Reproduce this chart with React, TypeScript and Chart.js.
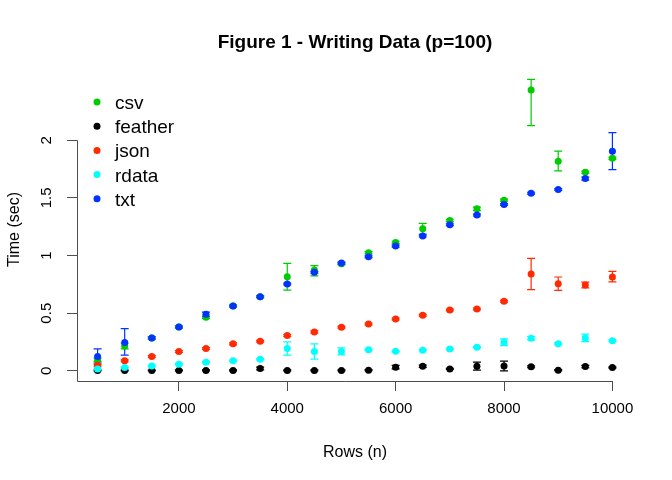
import React, { useEffect, useRef } from 'react';
import { Chart, registerables } from 'chart.js';

Chart.register(...registerables);

// ---------- data ----------
const rows = [500, 1000, 1500, 2000, 2500, 3000, 3500, 4000, 4500, 5000, 5500, 6000, 6500, 7000, 7500, 8000, 8500, 9000, 9500, 10000];

const seriesNames = ['csv', 'feather', 'json', 'rdata', 'txt'];
const seriesColors = ['#00cc00', '#000000', '#ff2a00', '#00ffff', '#0033ff'];

const csvMean = [0.095, 0.216, 0.285, 0.381, 0.465, 0.563, 0.643, 0.817, 0.874, 0.930, 1.024, 1.114, 1.232, 1.305, 1.405, 1.480, 2.436, 1.818, 1.723, 1.844];
const csvLow = [0.080, 0.190, 0.275, 0.373, 0.455, 0.555, 0.635, 0.701, 0.823, 0.922, 1.014, 1.104, 1.186, 1.295, 1.390, 1.470, 2.127, 1.734, 1.713, 1.834];
const csvHigh = [0.110, 0.240, 0.295, 0.389, 0.475, 0.571, 0.651, 0.932, 0.912, 0.938, 1.034, 1.124, 1.279, 1.315, 1.420, 1.490, 2.528, 1.905, 1.733, 1.854];

const featherMean = [0.003, 0.003, 0.003, 0.004, 0.004, 0.004, 0.020, 0.004, 0.004, 0.004, 0.006, 0.032, 0.040, 0.017, 0.040, 0.043, 0.035, 0.006, 0.037, 0.029];
const featherLow = [0.000, 0.000, 0.000, 0.000, 0.000, 0.000, 0.008, 0.000, 0.000, 0.000, 0.002, 0.017, 0.030, 0.012, 0.006, 0.000, 0.027, 0.002, 0.027, 0.024];
const featherHigh = [0.006, 0.006, 0.006, 0.008, 0.008, 0.008, 0.032, 0.008, 0.008, 0.008, 0.010, 0.047, 0.050, 0.022, 0.075, 0.084, 0.043, 0.010, 0.047, 0.034];

const jsonMean = [0.049, 0.087, 0.124, 0.167, 0.193, 0.234, 0.257, 0.306, 0.338, 0.378, 0.407, 0.450, 0.482, 0.528, 0.537, 0.604, 0.840, 0.756, 0.745, 0.814];
const jsonLow = [0.041, 0.079, 0.116, 0.159, 0.185, 0.226, 0.249, 0.298, 0.330, 0.370, 0.399, 0.442, 0.474, 0.520, 0.529, 0.596, 0.704, 0.698, 0.720, 0.771];
const jsonHigh = [0.057, 0.095, 0.132, 0.175, 0.201, 0.242, 0.265, 0.314, 0.346, 0.386, 0.415, 0.458, 0.490, 0.536, 0.545, 0.612, 0.976, 0.814, 0.770, 0.863];

const rdataMean = [0.017, 0.029, 0.043, 0.058, 0.075, 0.087, 0.101, 0.193, 0.167, 0.167, 0.182, 0.170, 0.179, 0.190, 0.205, 0.248, 0.283, 0.236, 0.286, 0.262];
const rdataLow = [0.011, 0.023, 0.037, 0.052, 0.069, 0.081, 0.095, 0.136, 0.101, 0.138, 0.176, 0.164, 0.173, 0.184, 0.199, 0.219, 0.268, 0.230, 0.254, 0.256];
const rdataHigh = [0.023, 0.035, 0.049, 0.064, 0.081, 0.093, 0.107, 0.251, 0.234, 0.200, 0.188, 0.176, 0.185, 0.196, 0.211, 0.277, 0.298, 0.242, 0.318, 0.268];

const txtMean = [0.124, 0.245, 0.286, 0.381, 0.490, 0.563, 0.643, 0.753, 0.855, 0.935, 0.990, 1.082, 1.169, 1.267, 1.351, 1.443, 1.541, 1.573, 1.668, 1.905];
const txtLow = [0.068, 0.136, 0.278, 0.373, 0.470, 0.555, 0.635, 0.745, 0.847, 0.927, 0.982, 1.074, 1.161, 1.259, 1.343, 1.435, 1.533, 1.565, 1.655, 1.746];
const txtHigh = [0.190, 0.366, 0.294, 0.389, 0.510, 0.571, 0.651, 0.761, 0.863, 0.943, 0.998, 1.090, 1.177, 1.275, 1.359, 1.451, 1.549, 1.581, 1.681, 2.066];

const xTicks = [2000, 4000, 6000, 8000, 10000];
const yTicks = [0, 0.5, 1, 1.5, 2];
const yTickLabels = ['0', '0.5', '1', '1.5', '2'];

const titleText = 'Figure 1 - Writing Data (p=100)';
const xTitle = 'Rows (n)';
const yTitle = 'Time (sec)';

// ---------- chart ----------
const FONT = "'Liberation Sans', Arial, Helvetica, sans-serif";
const AXIS_COLOR = '#4d4d4d';

const means = [csvMean, featherMean, jsonMean, rdataMean, txtMean];
const lows = [csvLow, featherLow, jsonLow, rdataLow, txtLow];
const highs = [csvHigh, featherHigh, jsonHigh, rdataHigh, txtHigh];

const errorBarsPlugin = {
  id: 'errorBars',
  beforeDatasetsDraw(chart: any) {
    const { ctx } = chart;
    const xs = chart.scales.x;
    const ys = chart.scales.y;
    chart.data.datasets.forEach((ds: any) => {
      ctx.save();
      ctx.strokeStyle = ds.backgroundColor;
      ctx.lineWidth = 1.2;
      ds.data.forEach((p: any, i: number) => {
        const px = xs.getPixelForValue(p.x);
        const lo = ys.getPixelForValue(ds.lower[i]);
        const hi = ys.getPixelForValue(ds.upper[i]);
        ctx.beginPath();
        ctx.moveTo(px, lo);
        ctx.lineTo(px, hi);
        ctx.moveTo(px - 4, lo);
        ctx.lineTo(px + 4, lo);
        ctx.moveTo(px - 4, hi);
        ctx.lineTo(px + 4, hi);
        ctx.stroke();
      });
      ctx.restore();
    });
  },
};

const decorPlugin = {
  id: 'decor',
  afterDraw(chart: any) {
    const { ctx, chartArea } = chart;
    const xs = chart.scales.x;
    const ys = chart.scales.y;
    const cx = (chartArea.left + chartArea.right) / 2;
    const cy = (chartArea.top + chartArea.bottom) / 2;
    ctx.save();

    // axis lines
    ctx.strokeStyle = AXIS_COLOR;
    ctx.lineWidth = 1;
    const left = Math.round(chartArea.left) + 0.5;
    const bottom = Math.round(chartArea.bottom) + 0.5;
    ctx.beginPath();
    ctx.moveTo(left, ys.getPixelForValue(yTicks[yTicks.length - 1]));
    ctx.lineTo(left, bottom);
    ctx.lineTo(xs.getPixelForValue(xTicks[xTicks.length - 1]) + 0.5, bottom);
    ctx.stroke();

    ctx.fillStyle = '#000';

    // y tick labels (rotated, as in R)
    ctx.font = `15px ${FONT}`;
    ctx.textAlign = 'center';
    ctx.textBaseline = 'alphabetic';
    yTicks.forEach((v, i) => {
      ctx.save();
      ctx.translate(51, ys.getPixelForValue(v));
      ctx.rotate(-Math.PI / 2);
      ctx.fillText(yTickLabels[i], 0, 0);
      ctx.restore();
    });

    // title
    ctx.font = `bold 19px ${FONT}`;
    ctx.fillText(titleText, cx, 48);

    // axis titles
    ctx.font = `16px ${FONT}`;
    ctx.fillText(xTitle, cx, 457);
    ctx.save();
    ctx.translate(19, cy);
    ctx.rotate(-Math.PI / 2);
    ctx.fillText(yTitle, 0, 0);
    ctx.restore();

    // legend
    ctx.textAlign = 'left';
    ctx.font = `19px ${FONT}`;
    chart.data.datasets.forEach((ds: any, i: number) => {
      const y = 102 + i * 24.2;
      ctx.fillStyle = ds.backgroundColor;
      ctx.beginPath();
      ctx.arc(97, y, 3.5, 0, Math.PI * 2);
      ctx.fill();
      ctx.fillStyle = '#000';
      ctx.fillText(ds.label, 115, y + 7);
    });

    ctx.restore();
  },
};

export default function App() {
  const canvasRef = useRef<HTMLCanvasElement | null>(null);

  useEffect(() => {
    if (!canvasRef.current) return;
    const datasets = seriesNames.map((name, s) => ({
      label: name,
      data: rows.map((r, i) => ({ x: r, y: means[s][i] })),
      lower: lows[s],
      upper: highs[s],
      backgroundColor: seriesColors[s],
      borderColor: seriesColors[s],
      pointRadius: 3.5,
      pointBorderWidth: 0,
      pointHoverRadius: 3.5,
      showLine: false,
      order: seriesNames.length - s,
    }));

    const chart = new Chart(canvasRef.current, {
      type: 'scatter',
      data: { datasets } as any,
      options: {
        responsive: false,
        animation: false,
        events: [],
        layout: { padding: { left: 0, top: 78, right: 39, bottom: 0 } },
        plugins: {
          legend: { display: false },
          tooltip: { enabled: false },
          title: { display: false },
        },
        scales: {
          x: {
            type: 'linear',
            min: 120,
            max: 10380,
            afterBuildTicks: (scale: any) => {
              scale.ticks = xTicks.map((v) => ({ value: v }));
            },
            afterFit: (scale: any) => {
              scale.height = 99;
            },
            grid: {
              drawOnChartArea: false,
              drawTicks: true,
              tickLength: 10,
              color: AXIS_COLOR,
              lineWidth: 1,
            },
            border: { display: false },
            ticks: {
              color: '#000',
              font: { family: FONT, size: 15 },
              padding: 9,
              maxRotation: 0,
              minRotation: 0,
              autoSkip: false,
              callback: (v: any) => String(v),
            },
          },
          y: {
            type: 'linear',
            min: -0.088,
            max: 2.54,
            afterBuildTicks: (scale: any) => {
              scale.ticks = yTicks.map((v) => ({ value: v }));
            },
            afterFit: (scale: any) => {
              scale.width = 77;
            },
            grid: {
              drawOnChartArea: false,
              drawTicks: true,
              tickLength: 10,
              color: AXIS_COLOR,
              lineWidth: 1,
            },
            border: { display: false },
            ticks: { display: false },
          },
        },
      } as any,
      plugins: [errorBarsPlugin, decorPlugin],
    });

    return () => {
      chart.destroy();
    };
  }, []);

  return (
    <div style={{ position: 'absolute', left: 0, top: 0, width: 672, height: 480, background: '#fff' }}>
      <canvas ref={canvasRef} width={672} height={480} style={{ display: 'block' }} />
    </div>
  );
}
